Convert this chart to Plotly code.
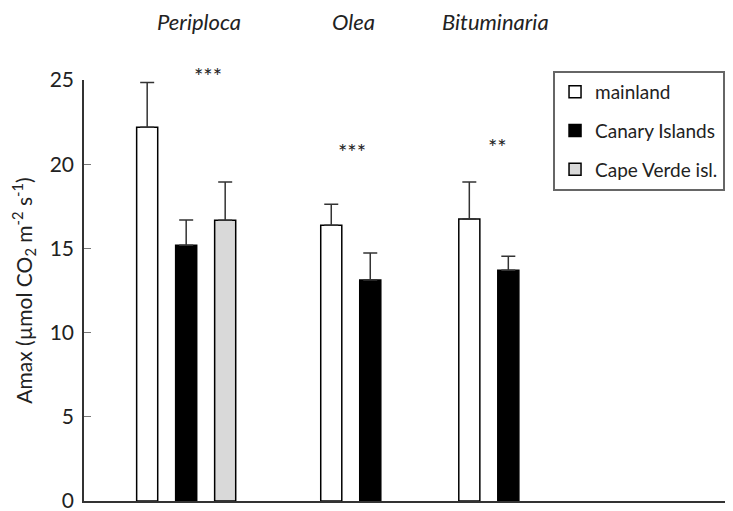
import plotly.graph_objects as go

# ---- data ----
species = ["Periploca", "Olea", "Bituminaria"]
series_names = ["mainland", "Canary Islands", "Cape Verde isl."]
mainland = [22.2, 16.37, 16.75]
canary = [15.18, 13.12, 13.70]
cape_verde = [16.67]            # only Periploca
mainland_err = [2.65, 1.25, 2.20]
canary_err = [1.50, 1.60, 0.83]
cape_verde_err = [2.27]
signif = ["***", "***", "**"]
signif_y = [25.5, 21.0, 21.3]
y_ticks = [0, 5, 10, 15, 20, 25]

# ---- layout helpers (positions / styles) ----
Y_MAX = 25
group_start = [1.62, 6.34, 9.88]
series_offset = [0.0, 1.0, 2.0]
label_x = [2.95, 6.92, 10.54]
signif_x = [3.18, 6.87, 10.59]
bar_width = 0.54
fills = ["white", "black", "#d9d9d9"]
FONT = "Lato, Carlito, 'Open Sans', sans-serif"

values = [mainland, canary, cape_verde]
errors = [mainland_err, canary_err, cape_verde_err]

fig = go.Figure()
for i, name in enumerate(series_names):
    xs = [group_start[g] + series_offset[i] for g in range(len(values[i]))]
    fig.add_trace(go.Bar(
        x=xs, y=values[i], name=name, width=bar_width,
        marker=dict(color=fills[i], line=dict(color="black", width=1.5)),
        error_y=dict(type="data", array=errors[i], arrayminus=[0] * len(errors[i]),
                     symmetric=False, color="#333", thickness=1.5, width=7),
        legendgroup=name,
    ))

annotations = []
for sp, lx in zip(species, label_x):
    annotations.append(dict(x=lx, y=1.1378, xref="x", yref="paper", text=f"<i>{sp}</i>",
                            showarrow=False, font=dict(family=FONT, size=22, color="#222"),
                            xanchor="center", yanchor="middle"))
for s, sx, sy in zip(signif, signif_x, signif_y):
    annotations.append(dict(x=sx, y=sy / Y_MAX, xref="x", yref="paper", text=s, showarrow=False,
                            font=dict(family=FONT, size=22, color="#222"),
                            xanchor="center", yanchor="middle", yshift=-4))

# page body has an 8px margin: the figure is 8px smaller so that it fills the window
fig.update_layout(
    width=725, height=503,
    margin=dict(l=76, r=0, t=72, b=10, autoexpand=False),
    paper_bgcolor="white", plot_bgcolor="white",
    barmode="overlay",
    showlegend=True,
    legend=dict(x=0.7227, y=1.0214, xanchor="left", yanchor="top",
                bordercolor="#666", borderwidth=2, bgcolor="white",
                font=dict(family=FONT, size=19, color="#222"),
                tracegroupgap=11, itemwidth=30, traceorder="grouped"),
    annotations=annotations,
    font=dict(family=FONT, color="#222"),
)
fig.update_xaxes(range=[0, 649 / 39.0], showline=True, linecolor="#333", linewidth=1.5,
                 showticklabels=False, ticks="", showgrid=False, zeroline=False)
fig.update_yaxes(range=[0, Y_MAX], tickvals=y_ticks,
                 showline=True, linecolor="#333", linewidth=1.5,
                 ticks="inside", ticklen=7, tickcolor="#777", tickwidth=1,
                 showgrid=False, zeroline=False, ticklabelstandoff=4,
                 ticklabeloverflow="allow",
                 tickfont=dict(family=FONT, size=21, color="#222"),
                 title=dict(text="Amax (µmol CO<sub>2</sub> m<sup>-2</sup> s<sup>-1</sup>)",
                            font=dict(family=FONT, size=21, color="#222"), standoff=16))

fig.write_html("out.html")
